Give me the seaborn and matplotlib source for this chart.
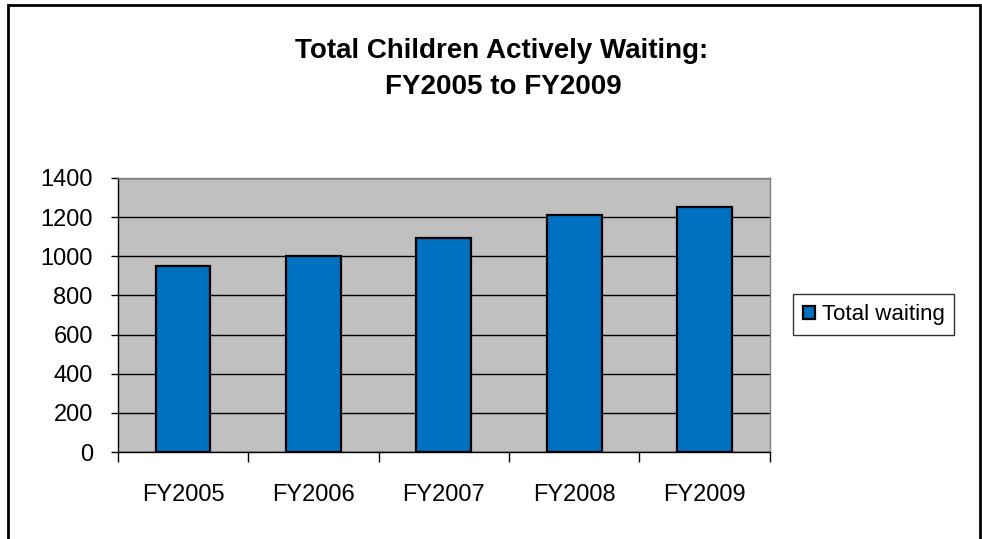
import numpy as np
import matplotlib
matplotlib.use("Agg")
import matplotlib.pyplot as plt
from matplotlib.patches import Rectangle
from matplotlib.ticker import FixedLocator
import seaborn as sns
import pandas as pd

years = ["FY2005", "FY2006", "FY2007", "FY2008", "FY2009"]
total_waiting = [950, 1000, 1093, 1210, 1251]
series_name = "Total waiting"
title_lines = ["Total Children Actively Waiting:", "FY2005 to FY2009"]

sns.set_style("white")
plt.rcParams['font.family'] = ['Liberation Sans', 'DejaVu Sans']
plt.rcParams['text.color'] = "black"
plt.rcParams['xtick.labelcolor'] = "black"
plt.rcParams['ytick.labelcolor'] = "black"

df = pd.DataFrame({"year": years, "value": total_waiting, "series": series_name})

fig = plt.figure(figsize=(9.82, 5.39), dpi=100)
ax = fig.add_axes([0.120, 0.1614, 0.664, 0.5086])
ax.set_facecolor("#C0C0C0")

sns.barplot(data=df, x="year", y="value", hue="series", palette=["#0070C0"],
            saturation=1, width=0.42, edgecolor="black", linewidth=1.6,
            ax=ax, zorder=3)

ax.set_ylim(0, 1400)
ax.set_xlim(-0.5, 4.5)
ax.set_yticks(range(0, 1401, 200))
ax.yaxis.grid(True, color="black", linewidth=1.0, zorder=0)
ax.set_axisbelow(True)
ax.set_xlabel("")
ax.set_ylabel("")

# axes styling
for s in ["top", "right"]:
    ax.spines[s].set_color("#808080")
    ax.spines[s].set_linewidth(1.0)
for s in ["left", "bottom"]:
    ax.spines[s].set_color("black")
    ax.spines[s].set_linewidth(1.0)

ax.tick_params(axis="y", direction="out", length=5, width=1, color="black",
               labelcolor="black", labelsize=17, pad=13, left=True)
ax.tick_params(axis="x", which="major", length=0, labelsize=17, pad=23,
               labelcolor="black")
ax.xaxis.set_minor_locator(FixedLocator(np.arange(-0.5, 5.0, 1.0)))
ax.tick_params(axis="x", which="minor", direction="out", length=7, width=1,
               color="black", bottom=True)

fig.text(0.511, 0.892, title_lines[0], ha="center", va="baseline",
         fontsize=20, fontweight="bold", color="black")
fig.text(0.513, 0.826, title_lines[1], ha="center", va="baseline",
         fontsize=20, fontweight="bold", color="black")

leg = ax.legend(loc="center left", bbox_to_anchor=(1.035, 0.5), fontsize=16,
                frameon=True, fancybox=False, edgecolor="black",
                handlelength=0.55, handleheight=0.55, handletextpad=0.3,
                borderpad=0.45, borderaxespad=0, labelcolor="black")
leg.get_frame().set_linewidth(1.0)

# outer chart border
fig.patches.append(Rectangle((0.008, -0.05), 0.990, 1.04, transform=fig.transFigure,
                             fill=False, edgecolor="black", linewidth=2.0))

fig.savefig("out.png", dpi=100, facecolor="white")
